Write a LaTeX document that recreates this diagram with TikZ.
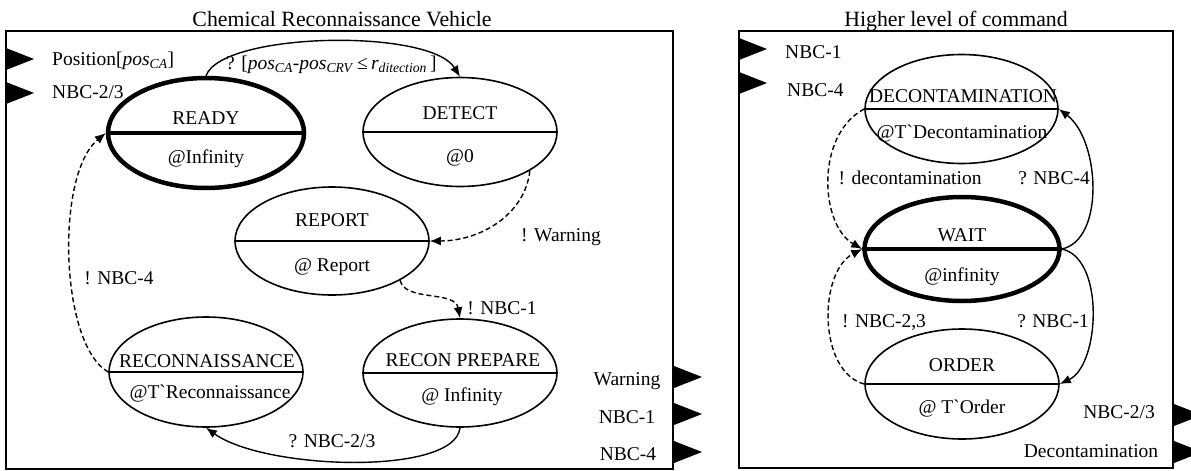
\documentclass[tikz,border=0pt]{standalone}
\usepackage{fontspec}
\setmainfont{Liberation Serif}
\usetikzlibrary{shapes.geometric,arrows.meta,calc}

\tikzset{
  txt/.style={font=\fontsize{19.5}{23}\selectfont, inner sep=0pt},
  title/.style={font=\fontsize{21.8}{25}\selectfont, inner sep=0pt},
  state/.style={draw, ellipse, line width=1.6pt, inner sep=0pt,
                minimum width=194pt, minimum height=109pt},
  initstate/.style={state, line width=4.5pt},
  divider/.style={line width=1.6pt},
  thickdivider/.style={line width=4pt},
  frame/.style={draw, line width=2pt},
  trans/.style={line width=1.4pt, -{Latex[length=11pt,width=9pt]}},
  msg/.style={trans, dash pattern=on 5pt off 3pt},
  port/.pic={\fill (0,-11) -- (28,0) -- (0,11) -- cycle;},
}

\begin{document}
\begin{tikzpicture}[x=1pt, y=-1pt]
\useasboundingbox (0,0) rectangle (1191,471);

% ---------------- Chemical Reconnaissance Vehicle ----------------
\draw[frame] (6,31) rectangle (673,469);
\node[title, anchor=base] (crvtitle) at (342,27) {Chemical Reconnaissance Vehicle};

% input ports
\pic at (6,59) {port};
\pic at (6,93) {port};
\node[txt, anchor=base west] (inpos) at (52,65) {Position[\textit{pos}\textsubscript{\textit{CA}}]};
\node[txt, anchor=base west] (innbc) at (52,98) {NBC-2/3};

% output ports
\pic at (674,377) {port};
\pic at (674,414) {port};
\pic at (674,452) {port};
\node[txt, anchor=base] (outwarn) at (627,385) {Warning};
\node[txt, anchor=base] (outnbca) at (627,423) {NBC-1};
\node[txt, anchor=base] (outnbcb) at (628,460) {NBC-4};

% states
\node[initstate, minimum width=196pt, minimum height=110pt] (ready) at (206,133) {};
\draw[thickdivider] (ready.west) -- (ready.east);
\node[txt, anchor=base] at (206,124) {READY};
\node[txt, anchor=base] at (206,163) {@Infinity};

\node[state] (detect) at (460,132) {};
\draw[divider] (detect.west) -- (detect.east);
\node[txt, anchor=base] at (460,119) {DETECT};
\node[txt, anchor=base] at (460,162) {@0};

\node[state, minimum height=108pt] (report) at (332,241) {};
\draw[divider] (report.west) -- (report.east);
\node[txt, anchor=base] at (332,226) {REPORT};
\node[txt, anchor=base] at (332,271) {@ Report};

\node[state, minimum height=108pt] (rprep) at (460,373) {};
\draw[divider] (rprep.west) -- (rprep.east);
\node[txt, anchor=base] at (463,366) {RECON PREPARE};
\node[txt, anchor=base] at (462,401) {@ Infinity};

\node[state, minimum height=110pt] (recon) at (206,372) {};
\draw[divider] (recon.west) -- (recon.east);
\node[txt, anchor=base] at (207,367) {RECONNAISSANCE};
\node[txt, anchor=base] at (210,398) {@T\textasciigrave Reconnaissance};

% transitions
\draw[trans] (ready.north) .. controls (222,32) and (430,28) .. (detect.north);
\node[txt, anchor=base west] (lbldetect) at (226,69)
  {? [\textit{pos}\textsubscript{\textit{CA}}-\textit{pos}\textsubscript{\textit{CRV}}\,≤\,\textit{r}\textsubscript{\textit{ditection}}\,]};

\draw[msg] (detect.-29) .. controls (525,215) and (480,241) .. (report.east);
\node[txt, anchor=base] (lblwarn) at (561,241) {! Warning};

\draw[msg] (report.-30) .. controls (405,302) and (455,290) .. (rprep.north);
\node[txt, anchor=base] (lblnbca) at (502,314) {! NBC-1};

\draw[trans] (rprep.south) .. controls (455,476) and (265,470) .. (recon.south);
\node[txt, anchor=base] (lblnbcc) at (332,447) {? NBC-2/3};

\draw[msg] (recon.west) .. controls (60,345) and (55,175) .. (ready.west);
\node[txt, anchor=base] (lblnbcb) at (119,284) {! NBC-4};

% ---------------- Higher level of command ----------------
\draw[frame] (739,31) rectangle (1173,468);
\node[title, anchor=base] (hltitle) at (956,27) {Higher level of command};

% input ports
\pic at (739,49) {port};
\pic at (739,83) {port};
\node[txt, anchor=base west] (hinnbca) at (785,58) {NBC-1};
\node[txt, anchor=base west] (hinnbcb) at (787,96) {NBC-4};

% output ports
\begin{scope}
  \clip (0,0) rectangle (1191,471);
  \pic at (1174,415) {port};
  \pic at (1174,452) {port};
\end{scope}
\node[txt, anchor=base] (houtnbc) at (1119,418) {NBC-2/3};
\node[txt, anchor=base] (houtdec) at (1091,457) {Decontamination};

% states
\node[state, minimum width=193pt] (decon) at (961.5,109) {};
\draw[divider] (decon.west) -- (decon.east);
\node[txt, anchor=base] at (963,102) {DECONTAMINATION};
\node[txt, anchor=base] at (962,138) {@T\textasciigrave Decontamination};

\node[initstate, minimum width=195pt, minimum height=104pt] (wait) at (962,249) {};
\draw[thickdivider] (wait.west) -- (wait.east);
\node[txt, anchor=base] at (962,241) {WAIT};
\node[txt, anchor=base] at (962,281) {@infinity};

\node[state, minimum height=110pt] (order) at (962,384) {};
\draw[divider] (order.west) -- (order.east);
\node[txt, anchor=base] at (962,371) {ORDER};
\node[txt, anchor=base] at (962,413) {@ T\textasciigrave Order};

% transitions
\draw[msg] (decon.west) .. controls (815,135) and (820,225) .. (wait.west);
\node[txt, anchor=base] (lbldec) at (910,184) {! decontamination};

\draw[trans] (wait.east) .. controls (1105,240) and (1100,140) .. (decon.east);
\node[txt, anchor=base] (lblhnbcb) at (1054,184) {? NBC-4};

\draw[trans] (wait.east) .. controls (1105,258) and (1100,365) .. (order.east);
\node[txt, anchor=base] (lblhnbca) at (1053,327) {? NBC-1};

\draw[msg] (order.west) .. controls (818,372) and (818,272) .. (wait.west);
\node[txt, anchor=base] (lblhnbcc) at (884,327) {! NBC-2,3};
\end{tikzpicture}
\end{document}
